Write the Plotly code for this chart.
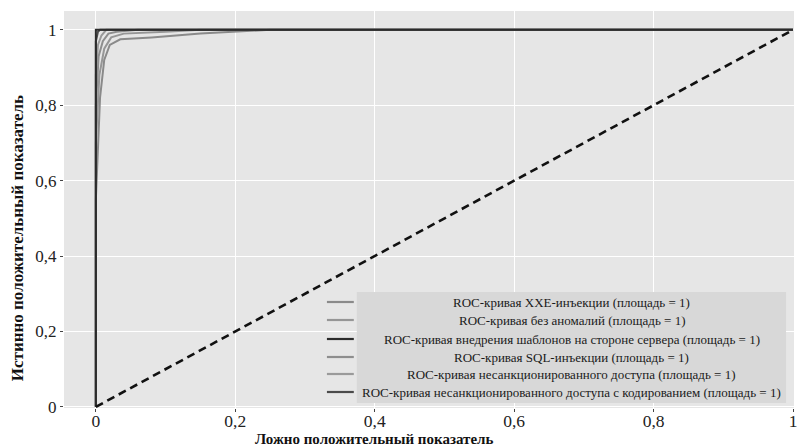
import plotly.graph_objects as go

# ---- data ----
names = [
    "ROC-кривая XXE-инъекции (площадь = 1)",
    "ROC-кривая без аномалий (площадь = 1)",
    "ROC-кривая внедрения шаблонов на стороне сервера (площадь = 1)",
    "ROC-кривая SQL-инъекции (площадь = 1)",
    "ROC-кривая несанкционированного доступа (площадь = 1)",
    "ROC-кривая несанкционированного доступа с кодированием (площадь = 1)",
]
colors = ["#8a8a8a", "#969696", "#2b2b2b", "#8e8e8e", "#9a9a9a", "#4a4a4a"]

fpr_xxe = [0, 0, 0.006, 0.012, 0.02, 0.035, 0.08, 0.15, 0.25, 1]
tpr_xxe = [0, 0.55, 0.82, 0.92, 0.96, 0.975, 0.98, 0.99, 1, 1]
fpr_norm = [0, 0, 0.005, 0.012, 0.022, 0.04, 0.1, 0.15, 1]
tpr_norm = [0, 0.7, 0.88, 0.95, 0.98, 0.99, 0.995, 1, 1]
fpr_ssti = [0, 0, 1]
tpr_ssti = [0, 1, 1]
fpr_sql = [0, 0, 0.004, 0.01, 0.018, 0.03, 0.06, 1]
tpr_sql = [0, 0.8, 0.93, 0.97, 0.99, 0.995, 1, 1]
fpr_unauth = [0, 0, 0.003, 0.008, 0.015, 1]
tpr_unauth = [0, 0.88, 0.96, 0.985, 1, 1]
fpr_enc = [0, 0, 0.003, 0.006, 1]
tpr_enc = [0, 0.97, 0.995, 1, 1]

diag_x = [0, 1]
diag_y = [0, 1]

x_ticks = [0, 0.2, 0.4, 0.6, 0.8, 1]
x_labels = ["0", "0,2", "0,4", "0,6", "0,8", "1"]
y_ticks = [0, 0.2, 0.4, 0.6, 0.8, 1]
y_labels = ["0", "0,2", "0,4", "0,6", "0,8", "1"]

x_title = "Ложно положительный показатель"
y_title = "Истинно положительный показатель"

curves = [
    (fpr_xxe, tpr_xxe),
    (fpr_norm, tpr_norm),
    (fpr_ssti, tpr_ssti),
    (fpr_sql, tpr_sql),
    (fpr_unauth, tpr_unauth),
    (fpr_enc, tpr_enc),
]

FONT = "Times New Roman, Liberation Serif, DejaVu Serif, serif"

fig = go.Figure()

# draw lighter curves first, darker on top
order = [1, 4, 0, 3, 5, 2]
for i in order:
    fx, fy = curves[i]
    fig.add_trace(go.Scatter(x=fx, y=fy, mode="lines", name=names[i],
                             line=dict(color=colors[i], width=2),
                             showlegend=False, hoverinfo="skip"))

fig.add_trace(go.Scatter(x=diag_x, y=diag_y, mode="lines", showlegend=False,
                         line=dict(color="#111111", width=2.6, dash="8px,5px"),
                         hoverinfo="skip"))

# ---- layout in pixel terms ----
W, H = 800, 446
L, R, T, B = 64, 3, 11, 38
pw, ph = W - L - R, H - T - B


def px_x(p):
    return (p - L) / pw


def px_y(p):
    return (H - B - p) / ph


shapes = []
annotations = []

# legend text area background
shapes.append(dict(type="rect", xref="paper", yref="paper",
                   x0=px_x(358), x1=px_x(789), y0=px_y(403), y1=px_y(292),
                   fillcolor="#d8d8d8", line=dict(width=0), layer="above"))
row_y = [302, 320, 339, 357, 374, 392]
for i, nm in enumerate(names):
    yy = px_y(row_y[i])
    shapes.append(dict(type="line", xref="paper", yref="paper",
                       x0=px_x(328), x1=px_x(355), y0=yy, y1=yy,
                       line=dict(color=colors[i], width=2.2), layer="above"))
    annotations.append(dict(xref="paper", yref="paper", x=px_x(574), y=yy,
                            text=nm, showarrow=False, xanchor="center",
                            yanchor="middle",
                            font=dict(family=FONT, size=13, color="#1a1a1a")))

# axis titles
annotations.append(dict(xref="paper", yref="paper", x=px_x(375), y=px_y(439),
                        text="<b>" + x_title + "</b>", showarrow=False,
                        xanchor="center", yanchor="middle",
                        font=dict(family=FONT, size=15, color="#111111")))
annotations.append(dict(xref="paper", yref="paper", x=px_x(17), y=px_y(238),
                        text="<b>" + y_title + "</b>", showarrow=False,
                        textangle=-90, xanchor="center", yanchor="middle",
                        font=dict(family=FONT, size=17, color="#111111")))

fig.update_layout(
    width=W, height=H,
    margin=dict(l=L, r=R, t=T, b=B),
    paper_bgcolor="white",
    plot_bgcolor="#e6e6e6",
    shapes=shapes,
    annotations=annotations,
    showlegend=False,
    font=dict(family=FONT, color="#222222"),
)

fig.update_xaxes(range=[-0.0457, 1.0014], tickvals=x_ticks, ticktext=x_labels,
                 showgrid=True, gridcolor="white", gridwidth=1.2,
                 zeroline=False, ticks="outside", ticklen=3, tickcolor="#444",
                 ticklabelstandoff=-6, ticklabeloverflow="allow",
                 tickfont=dict(family=FONT, size=17.5, color="#222"),
                 showline=False)
fig.update_yaxes(range=[-0.003, 1.05], tickvals=y_ticks, ticktext=y_labels,
                 showgrid=True, gridcolor="white", gridwidth=1.2,
                 zeroline=False, ticks="outside", ticklen=3, tickcolor="#444",
                 tickfont=dict(family=FONT, size=17, color="#222"),
                 showline=False)

fig.write_html("out.html")
